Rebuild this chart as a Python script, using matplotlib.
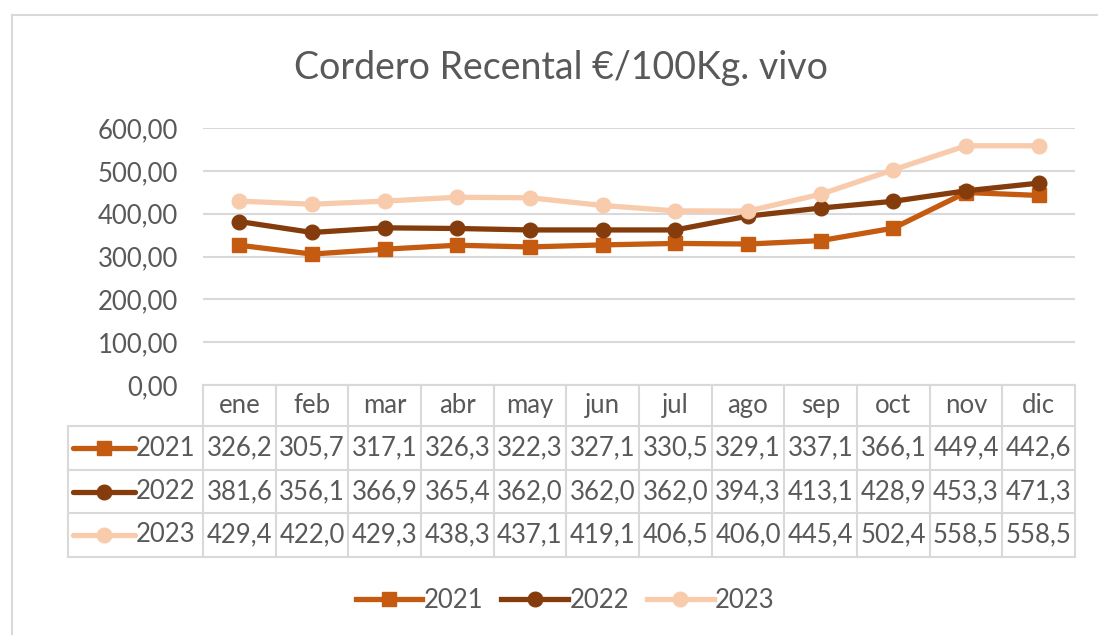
import matplotlib
matplotlib.use("Agg")
import matplotlib.pyplot as plt
from matplotlib.lines import Line2D

months = ["ene", "feb", "mar", "abr", "may", "jun", "jul", "ago", "sep", "oct", "nov", "dic"]
years = ["2021", "2022", "2023"]
v2021 = [326.2, 305.7, 317.1, 326.3, 322.3, 327.1, 330.5, 329.1, 337.1, 366.1, 449.4, 442.6]
v2022 = [381.6, 356.1, 366.9, 365.4, 362.0, 362.0, 362.0, 394.3, 413.1, 428.9, 453.3, 471.3]
v2023 = [429.4, 422.0, 429.3, 438.3, 437.1, 419.1, 406.5, 406.0, 445.4, 502.4, 558.5, 558.5]
yticks = [0, 100, 200, 300, 400, 500, 600]
title = "Cordero Recental €/100Kg. vivo"

series = [v2021, v2022, v2023]
colors = ["#C55A11", "#843C0C", "#F8CBAD"]
markers = ["s", "o", "o"]
txt = "#595959"
grid = "#D9D9D9"
FONT = "Lato"
fs = 18.5
LW = 3.8
MS = 10.5

W, H = 1098, 635
fig = plt.figure(figsize=(W / 100, H / 100), dpi=100)

def box(x0, y0, x1, y1):
    return [x0 / W, 1 - y1 / H, (x1 - x0) / W, (y1 - y0) / H]

# outer frame (top + left)
fig.add_artist(Line2D([12 / W, 12 / W], [0, 1 - 15 / H], color=grid, lw=1.5, transform=fig.transFigure))
fig.add_artist(Line2D([12 / W, 1], [1 - 15 / H, 1 - 15 / H], color=grid, lw=1.5, transform=fig.transFigure))

ax = fig.add_axes(box(203, 128, 1075, 385))
n = len(months)
xs = list(range(n))
for vals, c, m, y in zip(series, colors, markers, years):
    ax.plot(xs, vals, color=c, lw=LW, marker=m, ms=MS, label=y, zorder=3)
ax.set_xlim(-0.5, n - 0.5)
ax.set_ylim(0, 600)
ax.set_yticks(yticks)
ax.set_yticklabels([f"{t:.2f}".replace(".", ",") for t in yticks], fontsize=fs, color=txt, family=FONT)
ax.set_xticks([])
ax.tick_params(axis="y", length=0, pad=18)
ax.grid(axis="y", color=grid, lw=1.5)
ax.set_axisbelow(True)
for s in ["top", "right", "left"]:
    ax.spines[s].set_visible(False)
ax.spines["bottom"].set_color(grid)
ax.spines["bottom"].set_linewidth(1.5)
fig.text(561 / W, 1 - 68 / H, title, ha="center", va="center", fontsize=27, color=txt, family=FONT)

# data table
tx = fig.add_axes(box(68, 385, 1075, 557))
colw = 872 / n
lab_w = 135 / colw
tx.set_xlim(-0.5 - lab_w, n - 0.5)
rowy = [0, 41, 85, 128, 172]
tx.set_ylim(rowy[-1], 0)
tx.axis("off")
lk = dict(color=grid, lw=1.5, clip_on=False)
for k in range(n + 1):
    tx.plot([k - 0.5, k - 0.5], [rowy[0], rowy[4]], **lk)
tx.plot([-0.5 - lab_w] * 2, [rowy[1], rowy[4]], **lk)
for r in range(1, 5):
    tx.plot([-0.5 - lab_w, n - 0.5], [rowy[r], rowy[r]], **lk)
for i, mth in enumerate(months):
    tx.text(i, (rowy[0] + rowy[1]) / 2, mth, ha="center", va="center", fontsize=fs, color=txt, family=FONT)
for r, (vals, c, m, y) in enumerate(zip(series, colors, markers, years)):
    yc = (rowy[r + 1] + rowy[r + 2]) / 2
    for i, v in enumerate(vals):
        tx.text(i, yc, f"{v:.1f}".replace(".", ","), ha="center", va="center", fontsize=fs, color=txt, family=FONT)
    x0 = -0.5 - lab_w + 5 / colw
    x1 = x0 + 62 / colw
    tx.plot([x0, x1], [yc, yc], color=c, lw=LW, solid_capstyle="round", clip_on=False)
    tx.plot([(x0 + x1) / 2], [yc], color=c, marker=m, ms=MS, clip_on=False)
    tx.text(x1 + 1 / colw, yc, y, ha="left", va="center", fontsize=fs, color=txt, family=FONT)

leg = fig.legend(loc="center", bbox_to_anchor=(565 / W, 1 - 600 / H), ncol=3, frameon=False,
                 handlelength=2.6, handletextpad=0.05, columnspacing=0.7,
                 prop={"family": FONT, "size": fs})
for t in leg.get_texts():
    t.set_color(txt)

fig.savefig("out.png", dpi=100)
